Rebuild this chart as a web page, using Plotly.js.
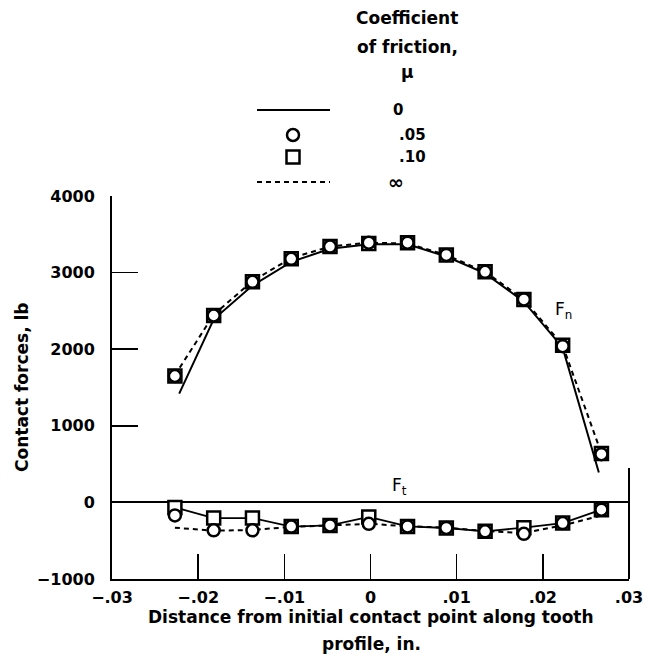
<!DOCTYPE html>
<html><head><meta charset="utf-8">
<script src="https://cdn.plot.ly/plotly-3.0.1.min.js"></script>
<style>html,body{margin:0;padding:0;background:#fff}</style>
</head><body><div id="chart" style="width:645px;height:669px"></div>
<script>
// ---- data ----
const xMarkers = [-0.0227,-0.0182,-0.0137,-0.0092,-0.0047,-0.0002,0.0043,0.0088,0.0133,0.0178,0.0223,0.0268];
const xZero    = [-0.0222,-0.0182,-0.0137,-0.0092,-0.0047,-0.0002,0.0043,0.0088,0.0133,0.0178,0.0223,0.0265];
const fnZero   = [1420,2390,2830,3140,3310,3370,3370,3210,2990,2620,2020,390];
const fnMu005  = [1650,2440,2880,3180,3340,3390,3390,3230,3010,2650,2040,630];
const fnMu010  = [1650,2440,2880,3180,3340,3380,3390,3230,3010,2650,2050,640];
const fnInf    = [1660,2450,2890,3190,3340,3390,3380,3230,3010,2650,2050,640];
const ftMu005  = [-170,-365,-365,-315,-300,-280,-313,-334,-378,-410,-270,-95];
const ftMu010  = [-65,-204,-204,-315,-300,-190,-313,-334,-378,-330,-270,-95];
const ftInf    = [-330,-370,-360,-320,-300,-280,-310,-330,-375,-400,-300,-170];
const xTickVals = [-0.03,-0.02,-0.01,0,0.01,0.02,0.03];
const xTickText = ['\u2212.03','\u2212.02','\u2212.01','0','.01','.02','.03'];
const yTickVals = [-1000,0,1000,2000,3000,4000];
const yTickText = ['\u22121000','0','1000','2000','3000','4000'];
const legendTitle = ['Coefficient','of friction,','\u03bc'];
const legendLabels = ['0','.05','.10','\u221e'];
const xTitleLines = ['Distance from initial contact point along tooth','profile, in.'];
const yTitle = 'Contact forces, lb';

// ---- geometry helpers (pixel -> paper) ----
const W = 645, H = 669, L = 112, R = 629, T = 196, B = 579;
const px = x => (x - L) / (R - L);
const py = y => (B - y) / (B - T);
const FONT = 'DejaVu Sans, Liberation Sans, Arial, sans-serif';

const circleMarker = {symbol:'circle', size:12, color:'#fff', line:{color:'#000', width:2.5}};
const squareMarker = {symbol:'square', size:13, color:'#fff', line:{color:'#000', width:2.5}};

const traces = [
  {x:xZero, y:fnZero, mode:'lines', line:{color:'#000', width:2}, name:'0 (Fn)'},
  {x:xMarkers, y:fnInf, mode:'lines', line:{color:'#000', width:2, dash:'5px,4px'}, name:'\u221e (Fn)'},
  {x:xMarkers, y:ftInf, mode:'lines', line:{color:'#000', width:2, dash:'5px,4px'}, name:'\u221e (Ft)'},
  {x:xMarkers, y:ftMu010, mode:'lines+markers', line:{color:'#000', width:1.8}, marker:squareMarker, name:'.10 (Ft)'},
  {x:xMarkers, y:ftMu005, mode:'markers', marker:circleMarker, name:'.05 (Ft)'},
  {x:xMarkers, y:fnMu010, mode:'markers', marker:squareMarker, name:'.10 (Fn)'},
  {x:xMarkers, y:fnMu005, mode:'markers', marker:circleMarker, name:'.05 (Fn)'}
];

const annotations = [];
const titleY = [18, 47, 72];
legendTitle.forEach((t, i) => annotations.push({
  xref:'paper', yref:'paper', x:px(407), y:py(titleY[i]), xanchor:'center', yanchor:'middle',
  text:t, showarrow:false, font:{family:FONT, size:17, weight:'bold', color:'#000'}
}));
const rowY = [110, 135, 157, 182];
const rowX = [391, 397, 397, 386];
const rowSize = [15, 15, 15, 19];
legendLabels.forEach((t, i) => annotations.push({
  xref:'paper', yref:'paper', x:px(rowX[i]), y:py(rowY[i]), xanchor:'left', yanchor:'middle',
  text:t, showarrow:false, font:{family:FONT, size:rowSize[i], weight:'bold', color:'#000'}
}));
// axis titles
const xTitleY = [617, 644];
xTitleLines.forEach((t, i) => annotations.push({
  xref:'paper', yref:'paper', x:px(371), y:py(xTitleY[i]), xanchor:'center', yanchor:'middle',
  text:t, showarrow:false, font:{family:FONT, size:17, weight:'bold', color:'#000'}
}));
annotations.push({xref:'paper', yref:'paper', x:px(22), y:py(387), xanchor:'center', yanchor:'middle',
  textangle:-90, text:yTitle, showarrow:false, font:{family:FONT, size:17, weight:'bold', color:'#000'}});
// curve labels
annotations.push({xref:'x', yref:'y', x:0.0212, y:2500, xanchor:'left', yanchor:'middle',
  text:'F<sub>n</sub>', showarrow:false, font:{family:FONT, size:17, color:'#000'}});
annotations.push({xref:'x', yref:'y', x:0.0023, y:210, xanchor:'left', yanchor:'middle',
  text:'F<sub>t</sub>', showarrow:false, font:{family:FONT, size:17, color:'#000'}});

const shapes = [
  // legend line samples
  {type:'line', xref:'paper', yref:'paper', x0:px(257), x1:px(330), y0:py(rowY[0]), y1:py(rowY[0]), line:{color:'#000', width:2}},
  {type:'line', xref:'paper', yref:'paper', x0:px(257), x1:px(330), y0:py(rowY[3]), y1:py(rowY[3]), line:{color:'#000', width:2, dash:'5px,4px'}},
  // legend marker samples
  {type:'circle', xref:'paper', yref:'paper', xsizemode:'pixel', ysizemode:'pixel', xanchor:px(293), yanchor:py(rowY[1]),
   x0:-6, x1:6, y0:-6, y1:6, line:{color:'#000', width:2.5}, fillcolor:'#fff'},
  {type:'rect', xref:'paper', yref:'paper', xsizemode:'pixel', ysizemode:'pixel', xanchor:px(293), yanchor:py(rowY[2]),
   x0:-6.5, x1:6.5, y0:-6.5, y1:6.5, line:{color:'#000', width:2.5}, fillcolor:'#fff'},
  // right frame segment
  {type:'line', xref:'paper', yref:'y', x0:1, x1:1, y0:-1000, y1:450, line:{color:'#000', width:2}}
];

const layout = {
  width:W, height:H, showlegend:false,
  paper_bgcolor:'#fff', plot_bgcolor:'#fff',
  margin:{l:L, r:W-R, t:T, b:H-B},
  font:{family:FONT, color:'#000'},
  xaxis:{range:[-0.03,0.03], tickvals:xTickVals, ticktext:xTickText,
    ticks:'inside', ticklen:25, tickwidth:1.5, tickcolor:'#000',
    showline:true, linewidth:2, linecolor:'#000', showgrid:false, zeroline:false,
    tickfont:{family:FONT, size:16, weight:'bold', color:'#000'}, ticklabelstandoff:3},
  yaxis:{range:[-1000,4000], tickvals:yTickVals, ticktext:yTickText,
    ticks:'inside', ticklen:26, tickwidth:1.5, tickcolor:'#000',
    showline:true, linewidth:2, linecolor:'#000', showgrid:false,
    zeroline:true, zerolinewidth:2, zerolinecolor:'#000',
    tickfont:{family:FONT, size:16, weight:'bold', color:'#000'}, ticklabelstandoff:12},
  annotations:annotations, shapes:shapes
};

Plotly.newPlot('chart', traces, layout, {staticPlot:true, displayModeBar:false});
</script></body></html>
